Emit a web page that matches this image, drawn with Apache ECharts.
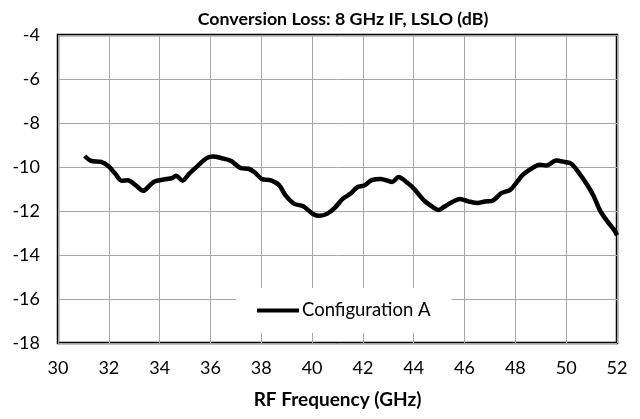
<!DOCTYPE html>
<html>
<head>
<meta charset="utf-8">
<script src="https://cdn.jsdelivr.net/npm/echarts@6/dist/echarts.min.js"></script>
<style>html,body{margin:0;padding:0;background:#fff}#c{width:640px;height:419px}</style>
</head>
<body>
<div id="c"></div>
<script>
var freqs = [31.05,31.3,31.7,32.0,32.25,32.5,32.75,33.05,33.35,33.6,33.8,34.15,34.5,34.64,34.9,35.15,35.5,35.85,36.1,36.45,36.8,37.2,37.5,37.75,38.02,38.35,38.7,38.95,39.3,39.65,40.05,40.3,40.6,40.9,41.2,41.5,41.78,42.05,42.35,42.7,43.15,43.4,43.75,44.05,44.4,44.7,44.98,45.18,45.5,45.82,46.15,46.5,46.8,47.12,47.45,47.8,48.05,48.3,48.7,48.97,49.23,49.6,49.95,50.2,50.47,50.8,51.07,51.33,51.6,51.9,52.0];
var lossA = [-9.5,-9.72,-9.77,-9.98,-10.3,-10.62,-10.6,-10.82,-11.08,-10.85,-10.66,-10.57,-10.5,-10.4,-10.62,-10.32,-9.95,-9.6,-9.52,-9.6,-9.72,-10.05,-10.08,-10.25,-10.55,-10.6,-10.82,-11.28,-11.68,-11.78,-12.15,-12.22,-12.12,-11.85,-11.45,-11.22,-10.92,-10.84,-10.6,-10.54,-10.68,-10.46,-10.72,-11.04,-11.52,-11.78,-11.96,-11.82,-11.6,-11.45,-11.56,-11.64,-11.57,-11.52,-11.19,-11.04,-10.7,-10.35,-10.02,-9.9,-9.93,-9.7,-9.77,-9.85,-10.22,-10.76,-11.3,-11.97,-12.44,-12.88,-13.1];
var seriesName = 'Configuration A';
var titleText = 'Conversion Loss: 8 GHz IF, LSLO (dB)';
var xName = 'RF Frequency (GHz)';

var pts = freqs.map(function (f, i) { return [f, lossA[i]]; });
var font = 'Lato, "Open Sans", sans-serif';
var chart = echarts.init(document.getElementById('c'));
chart.setOption({
  animation: false,
  title: {
    text: titleText, left: 338, top: 5, textAlign: 'center',
    textStyle: { fontFamily: font, fontWeight: 'bold', fontSize: 17.8, color: '#000' }
  },
  grid: { left: 58, right: 23, top: 35, bottom: 76, show: true, borderColor: '#000', borderWidth: 2.5, backgroundColor: 'transparent' },
  legend: {
    left: 236, top: 288, padding: [13, 21], backgroundColor: '#fff',
    icon: 'rect', itemWidth: 42, itemHeight: 4, itemGap: 0,
    textStyle: { fontFamily: font, fontSize: 18.5, color: '#000', padding: [0, 0, 0, -2] },
    data: [seriesName]
  },
  xAxis: {
    type: 'value', min: 30, max: 52, interval: 2,
    name: xName, nameLocation: 'middle', nameGap: 47,
    nameTextStyle: { fontFamily: font, fontWeight: 'bold', fontSize: 19, color: '#000' },
    axisLine: { show: false }, axisTick: { show: false },
    axisLabel: { fontFamily: font, fontSize: 18, color: '#000', margin: 16 },
    splitLine: { show: true, lineStyle: { color: '#a6a6a6', width: 1 } }
  },
  yAxis: {
    type: 'value', min: -18, max: -4, interval: 2,
    axisLine: { show: false }, axisTick: { show: false },
    axisLabel: { fontFamily: font, fontSize: 18, color: '#000', margin: 18 },
    splitLine: { show: true, lineStyle: { color: '#a6a6a6', width: 1 } }
  },
  series: [{
    name: seriesName, type: 'line', data: pts, showSymbol: false, symbol: 'none',
    smooth: 0.3, lineStyle: { color: '#000', width: 4.5 }, itemStyle: { color: '#000' }
  }]
});
</script>
</body>
</html>
